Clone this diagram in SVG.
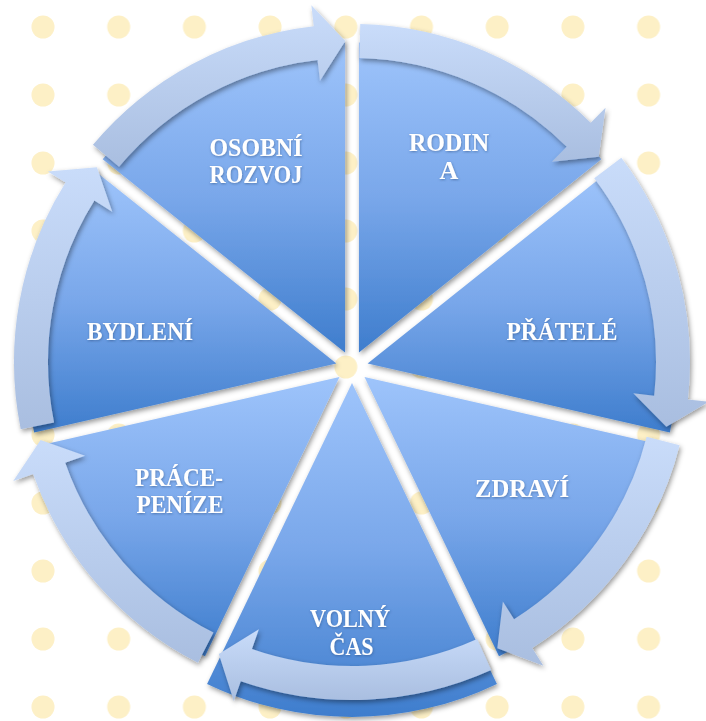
<svg xmlns="http://www.w3.org/2000/svg" width="706" height="721" viewBox="0 0 706 721">
  <defs>
    <pattern id="dots" patternUnits="userSpaceOnUse" x="5.15" y="-7" width="75.7" height="68">
      <circle cx="37.85" cy="34" r="11.5" fill="#FDF0C6"/>
    </pattern>
    <linearGradient id="segGrad" x1="0" y1="0" x2="0" y2="1">
      <stop offset="0" stop-color="#9EC4FB"/>
      <stop offset="0.5" stop-color="#79A7EA"/>
      <stop offset="1" stop-color="#3E7DCD"/>
    </linearGradient>
    <linearGradient id="arrGrad" x1="0" y1="0" x2="0" y2="1">
      <stop offset="0" stop-color="#C9DCFA"/>
      <stop offset="1" stop-color="#A9BEE0"/>
    </linearGradient>
    <filter id="shadow" x="-10%" y="-10%" width="120%" height="120%">
      <feDropShadow dx="1.5" dy="2.5" stdDeviation="2.5" flood-color="#000" flood-opacity="0.4"/>
    </filter>
    <filter id="tshadow" x="-10%" y="-20%" width="120%" height="140%">
      <feDropShadow dx="0.5" dy="1" stdDeviation="0.8" flood-color="#1F3F70" flood-opacity="0.5"/>
    </filter>
  </defs>
  <style>
    .seg { fill: url(#segGrad); filter: url(#shadow); }
    .arr { fill: url(#arrGrad); filter: url(#shadow); }
    .lbl { font-family: "Liberation Serif", "Times New Roman", serif; font-weight: bold; font-size: 26px; fill: #FFFFFF; text-anchor: middle; filter: url(#tshadow); }
  </style>

  <rect x="0" y="0" width="706" height="721" fill="#FFFFFF"/>
  <rect x="0" y="0" width="706" height="721" fill="url(#dots)"/>

  <g id="node-rodina">
    <path class="seg" d="M358.94,352.58 L358.94,42.58 A310,310 0 0 1 601.31,159.30 Z"/>
    <text class="lbl" x="449" y="151" textLength="80" lengthAdjust="spacingAndGlyphs">RODIN</text>
    <text class="lbl" x="449" y="179">A</text>
  </g>
  <g id="node-pratele">
    <path class="seg" d="M367.60,363.44 L609.97,170.16 A310,310 0 0 1 669.83,432.42 Z"/>
    <text class="lbl" x="562" y="340" textLength="111" lengthAdjust="spacingAndGlyphs">PŘÁTELÉ</text>
  </g>
  <g id="node-zdravi">
    <path class="seg" d="M364.51,376.98 L666.74,445.96 A310,310 0 0 1 499.01,656.28 Z"/>
    <text class="lbl" x="522" y="497" textLength="94" lengthAdjust="spacingAndGlyphs">ZDRAVÍ</text>
  </g>
  <g id="node-volny-cas">
    <path class="seg" d="M352,383 L496.92,683.92 A334,334 0 0 1 207.08,683.92 Z"/>
    <text class="lbl" x="350" y="627" textLength="80" lengthAdjust="spacingAndGlyphs">VOLNÝ</text>
    <text class="lbl" x="351.5" y="655" textLength="44" lengthAdjust="spacingAndGlyphs">ČAS</text>
  </g>
  <g id="node-prace-penize">
    <path class="seg" d="M339.49,376.98 L204.99,656.28 A310,310 0 0 1 37.26,445.96 Z"/>
    <text class="lbl" x="179" y="486" textLength="88" lengthAdjust="spacingAndGlyphs">PRÁCE-</text>
    <text class="lbl" x="180" y="513" textLength="87" lengthAdjust="spacingAndGlyphs">PENÍZE</text>
  </g>
  <g id="node-bydleni">
    <path class="seg" d="M336.40,363.44 L34.17,432.42 A310,310 0 0 1 94.03,170.16 Z"/>
    <text class="lbl" x="140" y="340" textLength="106" lengthAdjust="spacingAndGlyphs">BYDLENÍ</text>
  </g>
  <g id="node-osobni-rozvoj">
    <path class="seg" d="M345.06,352.58 L102.69,159.30 A310,310 0 0 1 345.06,42.58 Z"/>
    <text class="lbl" x="256" y="156" textLength="93" lengthAdjust="spacingAndGlyphs">OSOBNÍ</text>
    <text class="lbl" x="256" y="183" textLength="93" lengthAdjust="spacingAndGlyphs">ROZVOJ</text>
  </g>

  <g id="connectors">
    <path class="arr" d="M360.26,24.10 A338,338 0 0 1 590.71,122.71 L605.54,107.84 L598.73,156.65 L551.87,161.64 L566.70,146.78 A304,304 0 0 0 359.43,58.09 Z"/>
    <path class="arr" d="M621.34,157.78 A338,338 0 0 1 687.92,399.42 L708.79,401.75 L666.38,426.86 L633.26,393.33 L654.13,395.66 A304,304 0 0 0 594.24,178.33 Z"/>
    <path class="arr" d="M679.59,445.24 A338,338 0 0 1 532.18,647.97 L543.38,665.74 L497.30,648.23 L502.86,601.44 L514.06,619.20 A304,304 0 0 0 646.64,436.87 Z"/>
    <path class="arr" d="M491.17,670.02 A338,338 0 0 1 240.77,681.17 L233.85,701.00 L218.81,654.06 L258.87,629.24 L251.95,649.07 A304,304 0 0 0 477.17,639.04 Z"/>
    <path class="arr" d="M197.95,662.86 A338,338 0 0 1 33.11,474.03 L13.29,480.99 L40.61,439.97 L85.00,455.80 L65.18,462.76 A304,304 0 0 0 213.45,632.59 Z"/>
    <path class="arr" d="M20.73,429.14 A338,338 0 0 1 65.58,182.53 L47.79,171.38 L96.89,167.16 L112.19,211.74 L94.39,200.59 A304,304 0 0 0 54.06,422.38 Z"/>
    <path class="arr" d="M92.97,144.87 A338,338 0 0 1 313.74,26.17 L311.36,5.31 L345.28,41.07 L319.96,80.82 L317.59,59.95 A304,304 0 0 0 119.02,166.71 Z"/>
  </g>
</svg>
